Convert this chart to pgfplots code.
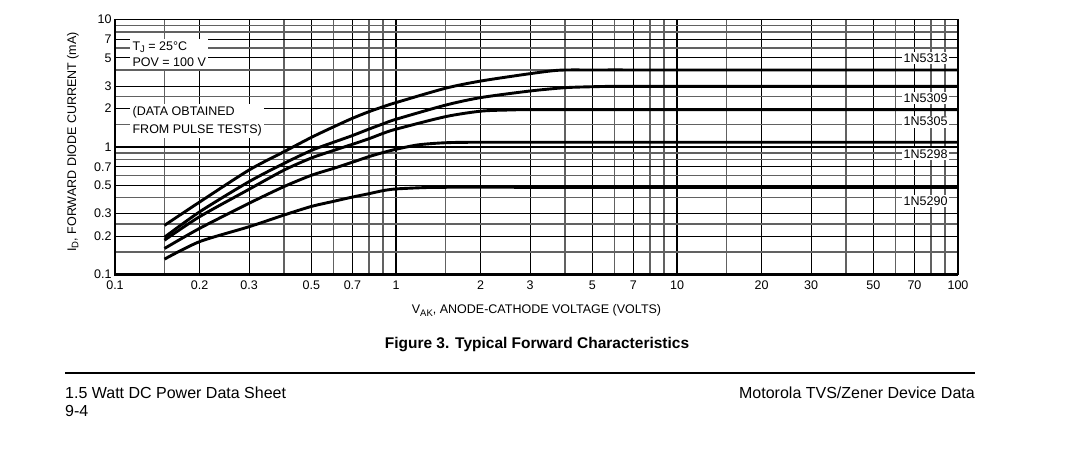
\documentclass[border=0pt]{standalone}
\usepackage{fontspec}
\setmainfont{Liberation Sans}
\usepackage{pgfplots}
\pgfplotsset{compat=1.18}
\newcommand{\sub}[1]{\raisebox{-0.35ex}{\fontsize{9.5}{10}\selectfont #1}}
\begin{document}
\begin{tikzpicture}[x=1pt,y=1pt]
\path[use as bounding box] (0,0) rectangle (1082,-450);
\begin{axis}[
  at={(115pt,-274.5pt)}, anchor=south west,
  scale only axis, width=843pt, height=255pt,
  xmode=log, ymode=log,
  xmin=0.1, xmax=100, ymin=0.1, ymax=10,
  xtick={0.1,0.2,0.3,0.5,0.7,1,2,3,5,7,10,20,30,50,70,100},
  xticklabels={0.1,0.2,0.3,0.5,0.7,1,2,3,5,7,10,20,30,50,70,100},
  minor xtick={0.15,0.4,0.6,0.8,0.9,1.5,4,6,8,9,15,40,60,80,90},
  ytick={0.1,0.2,0.3,0.5,0.7,1,2,3,5,7,10},
  yticklabels={0.1,0.2,0.3,0.5,0.7,1,2,3,5,7,10},
  minor ytick={0.15,0.25,0.4,0.6,0.8,0.9,1.5,2.5,4,6,8,9},
  grid=both,
  major grid style={black, line width=1.1pt},
  minor grid style={black!62, line width=1.5pt},
  major tick length=0pt, minor tick length=0pt,
  axis line style={line width=1.5pt},
  tick label style={font=\fontsize{12.5}{14}\selectfont},
  xticklabel style={yshift=-3pt},
  label style={font=\fontsize{12.5}{14}\selectfont},
  xlabel={V\sub{AK}, ANODE-CATHODE VOLTAGE (VOLTS)},
  ylabel={I\sub{D}, FORWARD DIODE CURRENT (mA)},
  xlabel style={at={(axis description cs:0.5,-0.141)}, anchor=center},
  ylabel style={at={(axis description cs:-0.05,0.52)}, anchor=center},
  curve/.style={black, line width=2.9pt, no markers, smooth, tension=0.45},
  clip=false,
]
% 1N5313
\addplot[curve] coordinates {(0.15,0.243) (0.2,0.37) (0.3,0.66) (0.4,0.92) (0.5,1.19) (0.6,1.44) (0.7,1.68) (0.8,1.89) (0.9,2.07) (1,2.23) (1.5,2.89) (2,3.29) (3,3.76) (3.8,4.0) (5,4.02) (10,4.02) (30,4.02) (100,4.02)};
% 1N5309
\addplot[curve] coordinates {(0.15,0.196) (0.2,0.31) (0.3,0.535) (0.4,0.745) (0.5,0.94) (0.6,1.09) (0.7,1.23) (0.8,1.38) (0.9,1.52) (1,1.65) (1.5,2.13) (2,2.44) (3,2.75) (4,2.92) (5,2.97) (6,2.99) (10,2.99) (30,2.99) (100,2.99)};
% 1N5305
\addplot[curve] coordinates {(0.15,0.186) (0.2,0.284) (0.3,0.466) (0.4,0.66) (0.5,0.82) (0.6,0.94) (0.7,1.05) (0.8,1.16) (0.9,1.28) (1,1.38) (1.5,1.73) (2,1.91) (2.5,1.95) (3,1.96) (10,1.96) (30,1.96) (100,1.96)};
% 1N5298
\addplot[curve] coordinates {(0.15,0.16) (0.2,0.23) (0.3,0.362) (0.4,0.49) (0.5,0.60) (0.6,0.68) (0.7,0.76) (0.8,0.84) (0.9,0.905) (1,0.96) (1.2,1.04) (1.5,1.08) (2,1.09) (5,1.09) (20,1.09) (100,1.09)};
% 1N5290
\addplot[curve] coordinates {(0.15,0.132) (0.2,0.181) (0.3,0.237) (0.4,0.293) (0.5,0.342) (0.6,0.375) (0.7,0.405) (0.8,0.43) (0.9,0.455) (1,0.469) (1.25,0.48) (1.5,0.483) (3,0.483) (20,0.483) (100,0.483)};
\draw[line width=2.6pt] (rel axis cs:0,1) -- (rel axis cs:0,0) -- (rel axis cs:1,0);
\begin{scope}[every node/.style={fill=white, inner sep=1.5pt, font=\fontsize{12.5}{14}\selectfont}]
\node at (axis cs:76.7,4.96) {1N5313};
\node at (axis cs:76.7,2.41) {1N5309};
\node at (axis cs:76.7,1.58) {1N5305};
\node at (axis cs:76.7,0.88) {1N5298};
\node at (axis cs:76.7,0.379) {1N5290};
\end{scope}
\node[fill=white, inner sep=2.5pt, anchor=north west, align=left, font=\fontsize{12.5}{16}\selectfont] at (axis cs:0.113,7.0) {T\sub{J} = 25°C\\POV = 100 V};
\node[fill=white, inner sep=2.5pt, anchor=north west, align=left, font=\fontsize{12.5}{18}\selectfont] at (axis cs:0.113,2.2) {(DATA OBTAINED\\FROM PULSE TESTS)};
\end{axis}
\node[font=\fontsize{15.5}{18}\selectfont\bfseries] at (537,-345) {Figure 3. Typical Forward Characteristics};
\draw[line width=1.5pt] (65,-373) -- (975,-373);
\node[anchor=base west, inner sep=0pt, font=\fontsize{16}{18}\selectfont] at (65,-398) {1.5 Watt DC Power Data Sheet};
\node[anchor=base west, inner sep=0pt, font=\fontsize{16}{18}\selectfont] at (65,-416) {9-4};
\node[anchor=base east, inner sep=0pt, font=\fontsize{16}{18}\selectfont] at (975,-398) {Motorola TVS/Zener Device Data};
\end{tikzpicture}
\end{document}
